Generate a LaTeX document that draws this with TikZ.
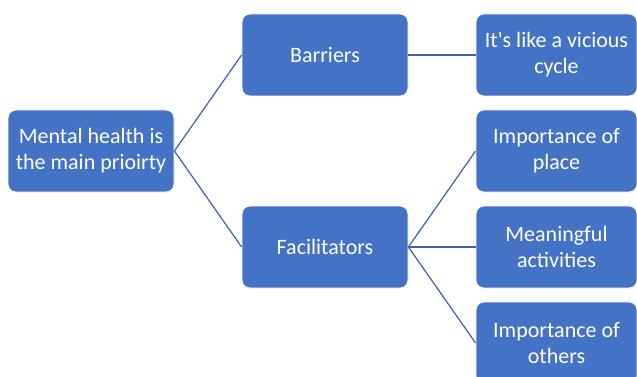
\documentclass[tikz,border=0pt]{standalone}
\usepackage{fontspec}
\setmainfont{Carlito}[Ligatures=TeXOff]
\definecolor{boxblue}{HTML}{4472C4}
\definecolor{lineblue}{HTML}{3A62AD}
\tikzset{
  box/.style={draw=white, line width=0.8pt, fill=boxblue, rounded corners=8pt,
    minimum width=166pt, minimum height=82pt, text=white, align=center,
    font=\fontsize{22}{26}\selectfont, inner sep=0pt},
  rbox/.style={box, minimum width=161pt},
  link/.style={draw=lineblue, line width=1.2pt}
}
\begin{document}
\begin{tikzpicture}[x=1pt,y=-1pt]
\useasboundingbox (0,0) rectangle (637,377);
\clip (0,0) rectangle (637,377);
\node[box] (root) at (91,151) {Mental health is\\the main prioirty};
\node[box] (bar) at (325,55) {Barriers};
\node[box] (fac) at (325,247) {Facilitators};
\node[rbox] (cyc) at (556.5,55) {It's like a vicious\\cycle};
\node[rbox] (place) at (556.5,151) {Importance of\\place};
\node[rbox] (act) at (556.5,247) {Meaningful\\activities};
\node[rbox] (oth) at (556.5,343) {Importance of\\others};
\draw[link] (root.east) -- (bar.west);
\draw[link] (root.east) -- (fac.west);
\draw[link] (bar.east) -- (cyc.west);
\draw[link] (fac.east) -- (place.west);
\draw[link] (fac.east) -- (act.west);
\draw[link] (fac.east) -- (oth.west);
\end{tikzpicture}
\end{document}
